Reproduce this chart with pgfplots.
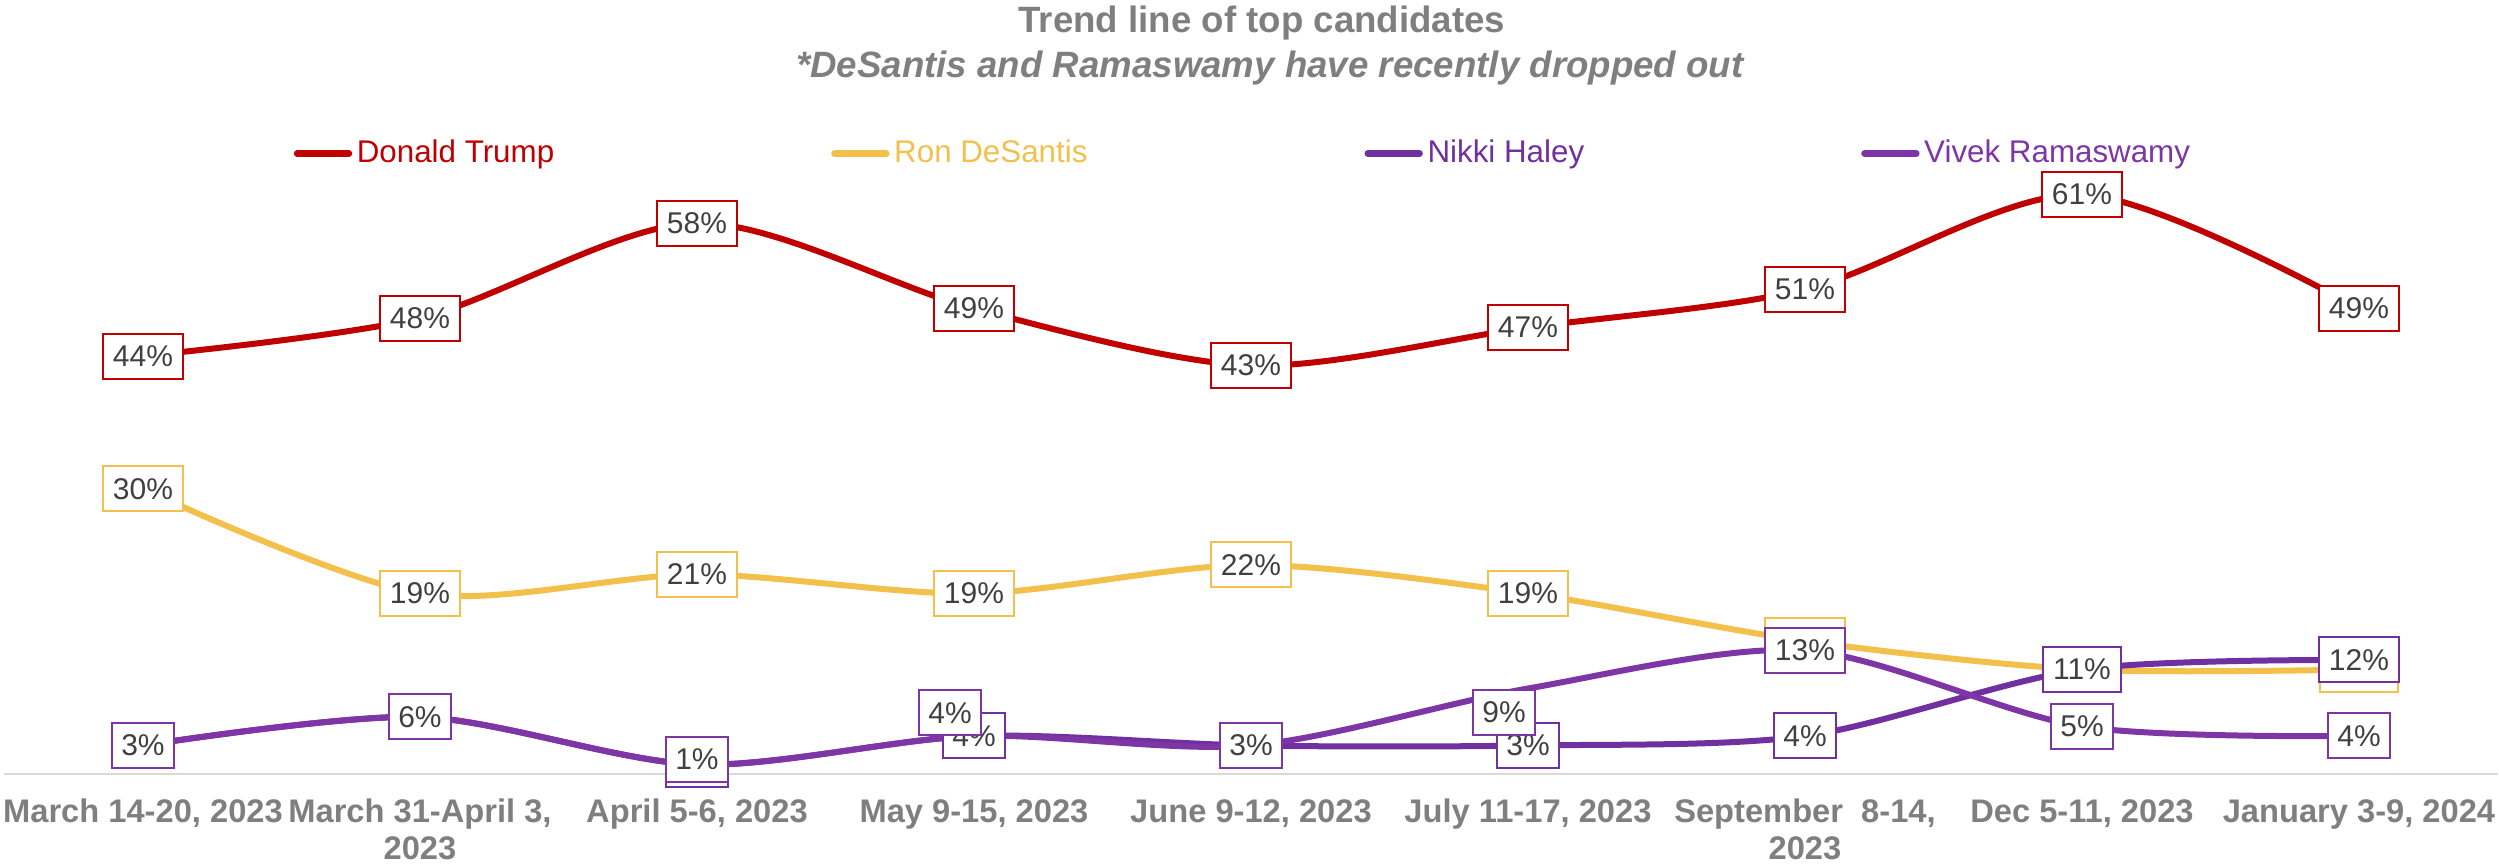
\documentclass[border=0pt]{standalone}
\usepackage{pgfplots}
\usepackage{pgfplotstable}
\pgfplotsset{compat=1.18}
\usepackage{fontspec}
\setmainfont{Liberation Sans}
\definecolor{trump}{HTML}{C00000}
\definecolor{desantis}{HTML}{F2C04B}
\definecolor{haley}{HTML}{7030A0}
\definecolor{vivek}{HTML}{7E35A5}
\definecolor{axgray}{HTML}{7F7F7F}
\definecolor{lbl}{HTML}{404040}
\definecolor{axline}{HTML}{D9D9D9}

\pgfplotstableread{
x y dx dy
0 44 0 0
1 48 0 0
2 58 0 0
3 49 0 0
4 43 0 0
5 47 0 0
6 51 0 0
7 61 0 0
8 49 0 0
}\trump
\pgfplotstableread{
x y dx dy
0 30 0 0
1 19 0 0
2 21 0 0
3 19 0 0
4 22 0 0
5 19 0 0
6 14 0 0
7 11 0 0
8 11 0 0
}\desantis
\pgfplotstableread{
x y dx dy
0 3 0 0
1 6 0 0
2 1 0 0
3 4 0 0
4 3 0 0
5 3 0 0
6 4 0 0
7 11 0 0
8 12 0 0
}\haley
\pgfplotstableread{
x y dx dy
0 3 0 0
1 6 0 0
2 1 0 1.5
3 4 -7.2 6.9
4 3 0 0
5 9 -7.2 -7.2
6 13 0 0
7 5 0 0
8 4 0 0
}\vivek

\pgfplotsset{
  serie/.style={color=#1, line width=1.8pt, smooth, mark=none},
  lbls/.style={draw=none, mark=none, forget plot, point meta=y,
    nodes near coords={\pgfmathprintnumber[fixed,precision=0,assume math mode=true]{\pgfplotspointmeta}\%},
    nodes near coords align={center},
    visualization depends on={\thisrow{dx}\as\myDx},
    visualization depends on={\thisrow{dy}\as\myDy},
    every node near coord/.style={anchor=center, draw=#1, fill=white, text=lbl,
      line width=0.6pt, inner xsep=2.9pt, inner ysep=0pt, minimum height=13.5pt,
      font=\fontsize{9}{10}\selectfont, xshift=\myDx pt, yshift=\myDy pt}},
}

\begin{document}
\begin{tikzpicture}
\begin{axis}[
  at={(0,0)}, anchor=south west,
  scale only axis, width=747.9pt, height=199.5pt,
  xmin=-0.5, xmax=8.5, ymin=0, ymax=70,
  hide y axis,
  axis x line*=bottom,
  x axis line style={draw=axline, line width=0.8pt},
  xtick={0,...,8},
  major tick length=0pt,
  xticklabels={{March 14-20, 2023},{March 31-April 3,\\2023},{April 5-6, 2023},{May 9-15, 2023},{June 9-12, 2023},{July 11-17, 2023},{September \ 8-14,\\2023},{Dec 5-11, 2023},{January 3-9, 2024}},
  xticklabel style={font=\fontsize{9.8}{10.9}\selectfont\bfseries, text=axgray, align=center, anchor=north, inner sep=0pt, yshift=-7.4pt},
  clip=false,
  legend columns=4,
  legend image code/.code={\draw[#1, line width=2pt, line cap=round] (0pt,0pt) -- (15.5pt,0pt);},
  legend style={at={(0.1158,0.933)}, anchor=west, draw=none, fill=none, inner sep=0pt,
    nodes={inner sep=0.6pt},
    font=\fontsize{9.4}{11}\selectfont,
    /tikz/every even column/.append style={column sep=82.5pt},
    /tikz/every odd column/.append style={column sep=0.8pt}},
]
\addplot[serie=trump] table[x=x,y=y] {\trump};
\addlegendentry{\textcolor{trump}{Donald Trump}}
\addplot[serie=desantis] table[x=x,y=y] {\desantis};
\addlegendentry{\textcolor{desantis}{Ron DeSantis}}
\addplot[serie=haley] table[x=x,y=y] {\haley};
\addlegendentry{\textcolor{haley}{Nikki Haley}}
\addplot[serie=vivek] table[x=x,y=y] {\vivek};
\addlegendentry{\textcolor{vivek}{Vivek Ramaswamy}}

\addplot[lbls=trump] table[x=x,y=y] {\trump};
\addplot[lbls=desantis] table[x=x,y=y] {\desantis};
\addplot[lbls=haley] table[x=x,y=y] {\haley};
\addplot[lbls=vivek] table[x=x,y=y] {\vivek};
\end{axis}
\node[anchor=base, text=axgray, font=\fontsize{11}{13}\selectfont\bfseries] at (377.2pt,222.3pt) {Trend line of top candidates};
\node[anchor=base, text=axgray, font=\fontsize{11}{13}\selectfont\bfseries\itshape] at (379.6pt,208.8pt) {*DeSantis and Ramaswamy have recently dropped out};
\pgfresetboundingbox
\path[use as bounding box] (-1.35pt,-27pt) rectangle (748.35pt,232.2pt);
\end{tikzpicture}
\end{document}
